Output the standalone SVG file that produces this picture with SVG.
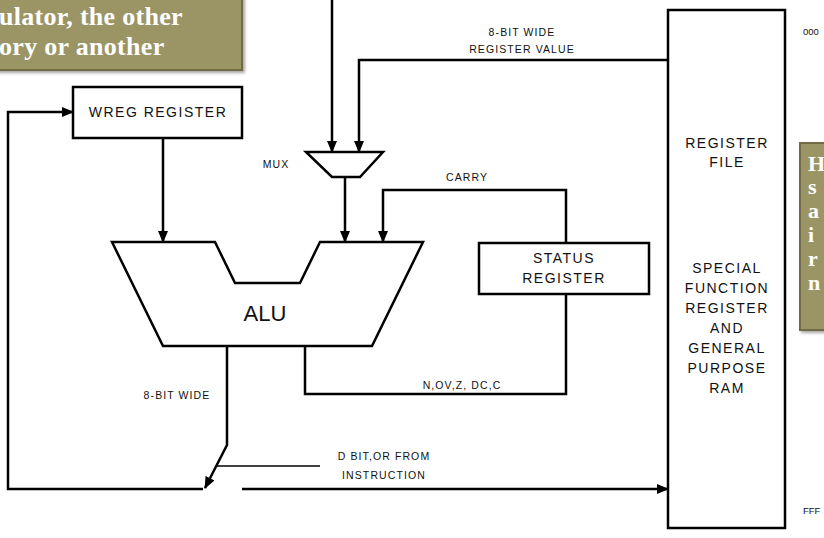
<svg xmlns="http://www.w3.org/2000/svg" width="824" height="538" viewBox="0 0 824 538">
<style>
.ln{fill:none;stroke:#000;stroke-width:2.5}
.bx{fill:#fff;stroke:#000;stroke-width:2.5}
.t{font-family:"Liberation Sans",Arial,sans-serif;fill:#111;text-anchor:middle}
.big{font-size:14px;letter-spacing:1.5px}
.sm{font-size:10.5px;letter-spacing:1.1px}
.note{fill:#9b9566;stroke:#6f6a45;stroke-width:2}
.nt{font-family:"Liberation Serif","Times New Roman",serif;font-weight:bold;font-size:26px;letter-spacing:0.3px;fill:#fff}
.nr{font-family:"Liberation Serif","Times New Roman",serif;font-weight:bold;font-size:22px;fill:#fff}
</style>
<defs>
<marker id="ah" markerUnits="userSpaceOnUse" markerWidth="12" markerHeight="12" viewBox="0 0 12 12" refX="11" refY="6" orient="auto">
<path d="M0,1 L12,6 L0,11 Z" fill="#000"/>
</marker>
<filter id="sh" x="-5%" y="-5%" width="115%" height="120%"><feDropShadow dx="2" dy="2" stdDeviation="1.5" flood-color="#000" flood-opacity="0.35"/></filter>
</defs>
<rect width="824" height="538" fill="#fff"/>

<g id="connectors">
<path class="ln" d="M332,0 V152" marker-end="url(#ah)"/>
<path class="ln" d="M668,60 H359 V152" marker-end="url(#ah)"/>
<path class="ln" d="M163,138 V242" marker-end="url(#ah)"/>
<path class="ln" d="M345,177 V242" marker-end="url(#ah)"/>
<path class="ln" d="M566,243 V190 H383 V242" marker-end="url(#ah)"/>
<path class="ln" d="M305,346 V394 H566 V294"/>
<path class="ln" d="M227,346 V445 L205,488" marker-end="url(#ah)"/>
<path class="ln" d="M203,489 H8 V112 H73" marker-end="url(#ah)"/>
<path class="ln" d="M242,489 H668" marker-end="url(#ah)"/>
<path fill="none" stroke="#000" stroke-width="1.5" d="M217,466 H320"/>
<text class="t sm" x="522" y="36">8-BIT WIDE</text>
<text class="t sm" x="522" y="53">REGISTER VALUE</text>
<text class="t sm" x="467" y="181">CARRY</text>
<text class="t sm" x="462" y="389">N,OV,Z, DC,C</text>
<text class="t sm" x="177" y="399">8-BIT WIDE</text>
<text class="t sm" x="384" y="460">D BIT,OR FROM</text>
<text class="t sm" x="384" y="479">INSTRUCTION</text>
</g>

<g id="note-top">
<rect class="note" x="-4" y="-4" width="246" height="74" filter="url(#sh)"/>
<text class="nt" x="-1" y="25">ulator, the other<tspan x="-1" y="55">ory or another</tspan></text>
</g>

<g id="wreg">
<rect class="bx" x="73" y="87" width="169" height="51"/>
<text class="t big" x="158" y="117">WREG REGISTER</text>
</g>

<g id="mux">
<path class="bx" d="M306,152 H383 L360,177 H332 Z"/>
<text class="t sm" x="276" y="168">MUX</text>
</g>

<g id="alu">
<path class="bx" d="M112,242 H215 L235,283 H300 L320,242 H423 L372,346 H163 Z"/>
<text class="t" x="265" y="321" font-size="22">ALU</text>
</g>

<g id="status">
<rect class="bx" x="479" y="243" width="170" height="51"/>
<text class="t big" x="564" y="263">STATUS</text>
<text class="t big" x="564" y="283">REGISTER</text>
</g>

<g id="regfile">
<rect class="bx" x="668" y="10" width="117" height="518"/>
<text class="t big" x="727" y="148">REGISTER</text>
<text class="t big" x="727" y="167">FILE</text>
<text class="t big" x="727" y="273">SPECIAL</text>
<text class="t big" x="727" y="293">FUNCTION</text>
<text class="t big" x="727" y="313">REGISTER</text>
<text class="t big" x="727" y="333">AND</text>
<text class="t big" x="727" y="353">GENERAL</text>
<text class="t big" x="727" y="373">PURPOSE</text>
<text class="t big" x="727" y="393">RAM</text>
</g>

<g id="addresses">
<text x="803" y="35" font-family="Liberation Sans,Arial,sans-serif" font-size="9.5" fill="#111">000</text>
<text x="803" y="514" font-family="Liberation Sans,Arial,sans-serif" font-size="9.5" fill="#111">FFF</text>
</g>

<g id="note-right">
<rect class="note" x="800" y="143" width="30" height="187" filter="url(#sh)"/>
<text class="nr" x="808" y="171">H</text>
<text class="nr" x="808" y="194">s</text>
<text class="nr" x="808" y="218">a</text>
<text class="nr" x="808" y="242">i</text>
<text class="nr" x="808" y="266">r</text>
<text class="nr" x="808" y="290">n</text>
</g>
</svg>
